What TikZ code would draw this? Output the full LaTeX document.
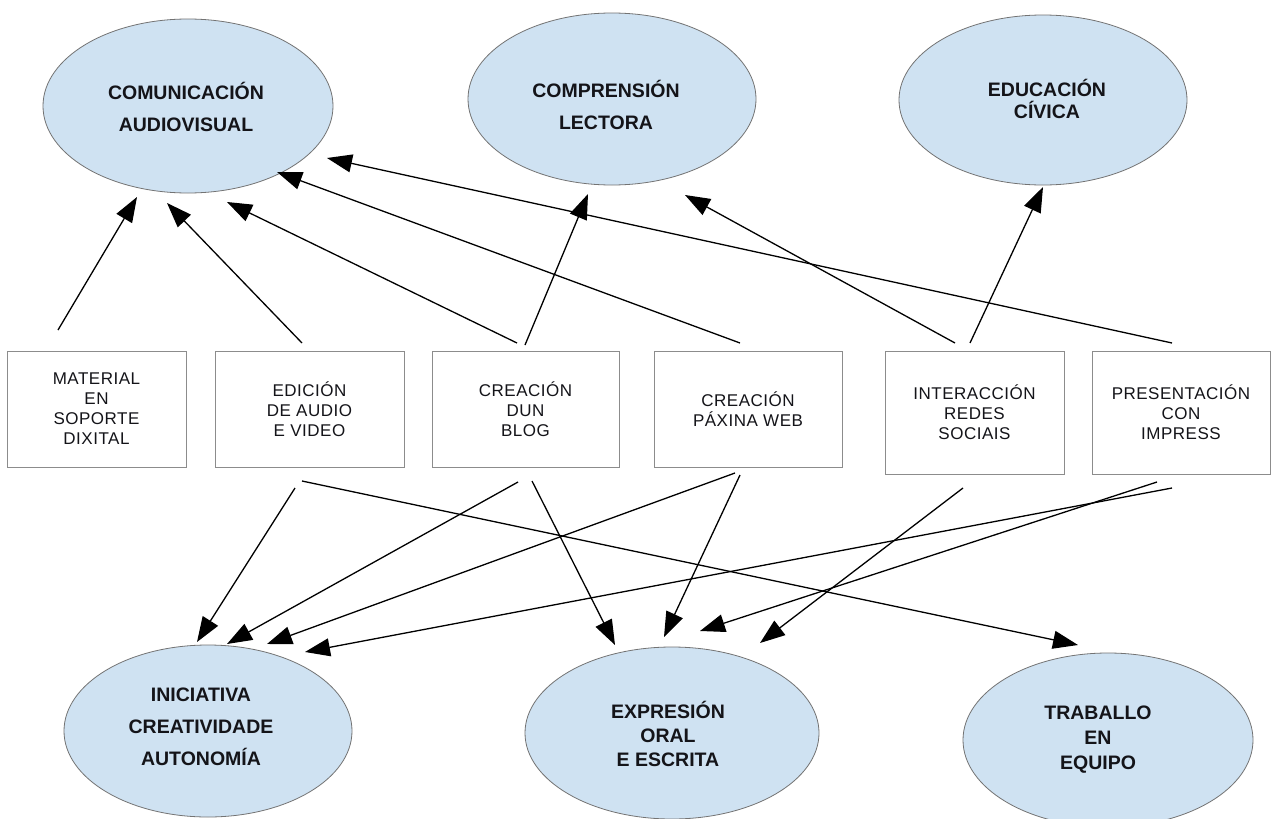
\documentclass[tikz,border=0pt]{standalone}
\usepackage{fontspec}
\setmainfont{Liberation Sans}
\newfontfamily\boxfont[LetterSpace=3]{Liberation Sans}
\usetikzlibrary{shapes.geometric,arrows.meta}
\definecolor{ellfill}{RGB}{207,226,242}
\definecolor{ellline}{RGB}{115,115,115}
\definecolor{boxline}{RGB}{140,140,140}
\definecolor{txt}{RGB}{20,20,25}
\begin{document}
\begin{tikzpicture}[x=1pt,y=-1pt,
  ell/.style={ellipse,draw=ellline,fill=ellfill,line width=0.8pt,inner sep=0pt},
  ebox/.style={rectangle,draw=boxline,line width=1pt,inner sep=0pt,
    font=\boxfont\fontsize{17}{20}\selectfont,align=center,text=txt},
  etxt/.style={font=\fontsize{19.5}{32}\selectfont\bfseries,align=center,text=txt,inner sep=0pt},
  conn/.style={line width=1.3pt,-{Triangle[length=25pt,width=18pt]}}]
\useasboundingbox[fill=white] (0,0) rectangle (1272,819);

% ellipses
\node[ell,minimum width=290pt,minimum height=174pt] (ca) at (188,106) {};
\node[ell,minimum width=288pt,minimum height=172pt] (cl) at (612,99) {};
\node[ell,minimum width=288pt,minimum height=170pt] (ec) at (1043,100) {};
\node[ell,minimum width=288pt,minimum height=172pt] (ini) at (208,731) {};
\node[ell,minimum width=294pt,minimum height=172pt] (ex) at (672,733) {};
\node[ell,minimum width=290pt,minimum height=174pt] (tr) at (1108,740) {};

\node[etxt] (tca) at (186,107) {COMUNICACIÓN\\AUDIOVISUAL};
\node[etxt] (tcl) at (606,105) {COMPRENSIÓN\\LECTORA};
\node[etxt,font=\fontsize{19.5}{22}\selectfont\bfseries] (tec) at (1047,99) {EDUCACIÓN\\CÍVICA};
\node[etxt] (tini) at (201,727) {INICIATIVA\\CREATIVIDADE\\AUTONOMÍA};
\node[etxt,font=\fontsize{19.5}{24}\selectfont\bfseries] (tex) at (668,734) {EXPRESIÓN\\ORAL\\E ESCRITA};
\node[etxt,font=\fontsize{19.5}{25}\selectfont\bfseries] (ttr) at (1098,740) {TRABALLO\\EN\\EQUIPO};

% boxes
\node[ebox,minimum width=179pt,minimum height=116pt] (b1) at (96.5,409) {MATERIAL\\EN\\SOPORTE\\DIXITAL};
\node[ebox,minimum width=189pt,minimum height=116pt] (b2) at (309.5,409) {EDICIÓN\\DE AUDIO\\E VIDEO};
\node[ebox,minimum width=187pt,minimum height=116pt] (b3) at (525.5,409) {CREACIÓN\\DUN\\BLOG};
\node[ebox,minimum width=188pt,minimum height=116pt] (b4) at (748,409) {CREACIÓN\\PÁXINA WEB};
\node[ebox,minimum width=179pt,minimum height=123pt] (b5) at (974.5,412.5) {INTERACCIÓN\\REDES\\SOCIAIS};
\node[ebox,minimum width=178pt,minimum height=123pt] (b6) at (1181,412.5) {PRESENTACIÓN\\CON\\IMPRESS};

% connector end points
\coordinate (s1) at (58,330);   \coordinate (e1) at (137,197);
\coordinate (s2) at (302,343);  \coordinate (e2) at (167,203);
\coordinate (s3) at (517,343);  \coordinate (e3) at (227,202);
\coordinate (s4) at (740,343);  \coordinate (e4) at (277,172);
\coordinate (s5) at (1172,343); \coordinate (e5) at (327,158);
\coordinate (s6) at (525,345);  \coordinate (e6) at (588,194);
\coordinate (s7) at (955,343);  \coordinate (e7) at (685,195);
\coordinate (s8) at (970,343);  \coordinate (e8) at (1043,187);

\coordinate (u1) at (295,488);  \coordinate (v1) at (197,642);
\coordinate (u2) at (302,481);  \coordinate (v2) at (1078,645);
\coordinate (u3) at (518,482);  \coordinate (v3) at (227,644);
\coordinate (u4) at (532,481);  \coordinate (v4) at (615,645);
\coordinate (u5) at (735,473);  \coordinate (v5) at (267,644);
\coordinate (u6) at (740,475);  \coordinate (v6) at (664,637);
\coordinate (u7) at (963,488);  \coordinate (v7) at (760,643);
\coordinate (u8) at (1157,482); \coordinate (v8) at (700,631);
\coordinate (u9) at (1172,488); \coordinate (v9) at (305,652);

% connectors
\foreach \i in {1,...,8} {\draw[conn] (s\i) -- (e\i);}
\foreach \i in {1,...,9} {\draw[conn] (u\i) -- (v\i);}
\end{tikzpicture}
\end{document}
